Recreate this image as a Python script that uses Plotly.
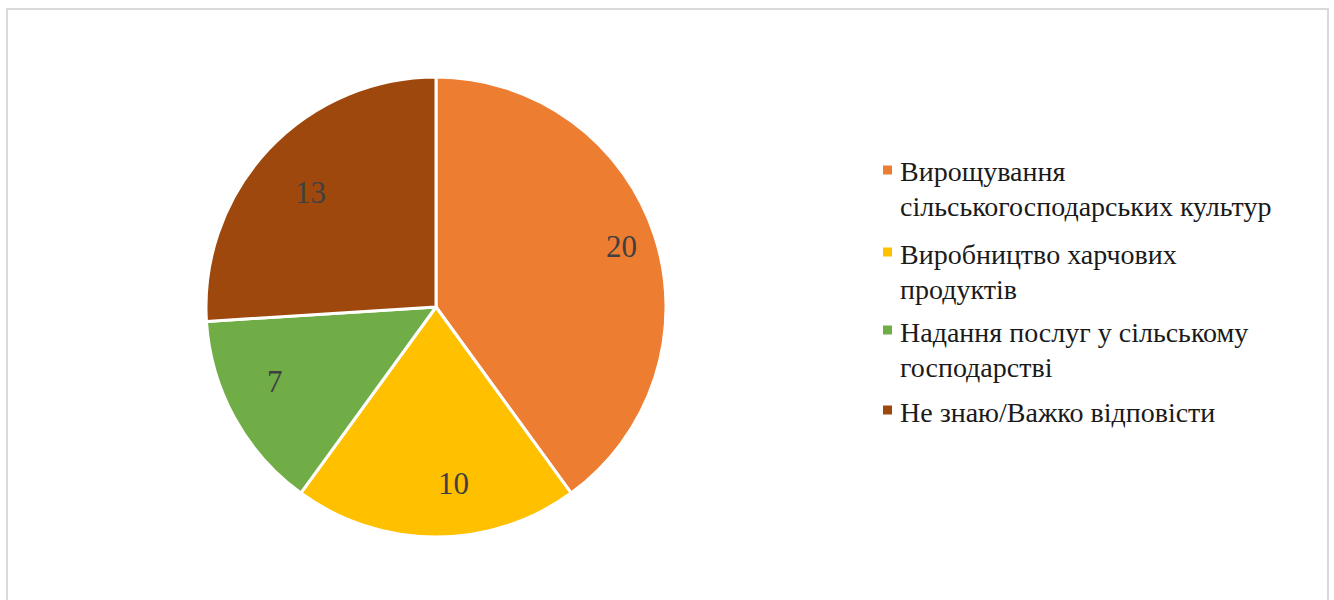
import math
import plotly.graph_objects as go

categories = [
    "Вирощування<br>сільськогосподарських культур",
    "Виробництво харчових<br>продуктів",
    "Надання послуг у сільському<br>господарстві",
    "Не знаю/Важко відповісти",
]
values = [20, 10, 7, 13]
colors = ["#ED7D31", "#FFC000", "#70AD47", "#9E480E"]

W, H = 1334, 600
cx, cy, R = 436, 307, 230  # pie centre/radius in pixels
SERIF = "Liberation Serif"
BOX_W = 405  # legend text box width; anything wider is clipped

fig = go.Figure()
fig.add_trace(go.Pie(
    labels=categories,
    values=values,
    sort=False,
    direction="clockwise",
    rotation=0,
    marker=dict(colors=colors, line=dict(color="white", width=3)),
    textinfo="none",
    hoverinfo="label+value",
    showlegend=False,
    domain=dict(x=[(cx - R) / W, (cx + R) / W], y=[1 - (cy + R) / H, 1 - (cy - R) / H]),
))

# data labels positioned from cumulative angles of the values
total = sum(values)
cum = 0
annotations = []
for v in values:
    mid = (cum + v / 2) / total * 2 * math.pi
    cum += v
    r = 0.85 * R
    px = cx + r * math.sin(mid)
    py = cy - r * math.cos(mid)
    annotations.append(dict(
        x=px / W, y=1 - py / H, xref="paper", yref="paper",
        text=str(v), showarrow=False,
        font=dict(family=SERIF, size=31, color="#404040"),
    ))


def serif_line(s):
    # a Latin glyph pushed past the clipped box keeps the serif face for Cyrillic
    n = max(4, math.ceil((445 - 13.5 * len(s)) / 7))
    return s + "\u00a0" * n + "l"


# legend (drawn manually to match spacing)
shapes = [dict(
    type="rect", xref="paper", yref="paper",
    x0=7 / W, x1=1328 / W, y0=-0.05, y1=1 - 9 / H,
    line=dict(color="#D9D9D9", width=2), fillcolor="rgba(0,0,0,0)", layer="below",
)]
item_top = [172, 254, 332, 412]
line_h = 35
for lab, col, yt in zip(categories, colors, item_top):
    shapes.append(dict(
        type="rect", xref="paper", yref="paper",
        x0=883 / W, x1=892 / W, y0=1 - (yt + 2.5) / H, y1=1 - (yt - 6.5) / H,
        fillcolor=col, line=dict(width=0),
    ))
    for i, line in enumerate(lab.split("<br>")):
        annotations.append(dict(
            x=898 / W, y=1 - (yt + i * line_h) / H, xref="paper", yref="paper",
            xanchor="left", yanchor="middle", align="left", width=BOX_W,
            text=serif_line(line), showarrow=False,
            font=dict(family=SERIF, size=28, color="#1a1a1a"),
        ))

fig.update_layout(
    width=W, height=H,
    margin=dict(l=0, r=0, t=0, b=0),
    paper_bgcolor="white",
    plot_bgcolor="white",
    annotations=annotations,
    shapes=shapes,
)

fig.write_html("out.html")
